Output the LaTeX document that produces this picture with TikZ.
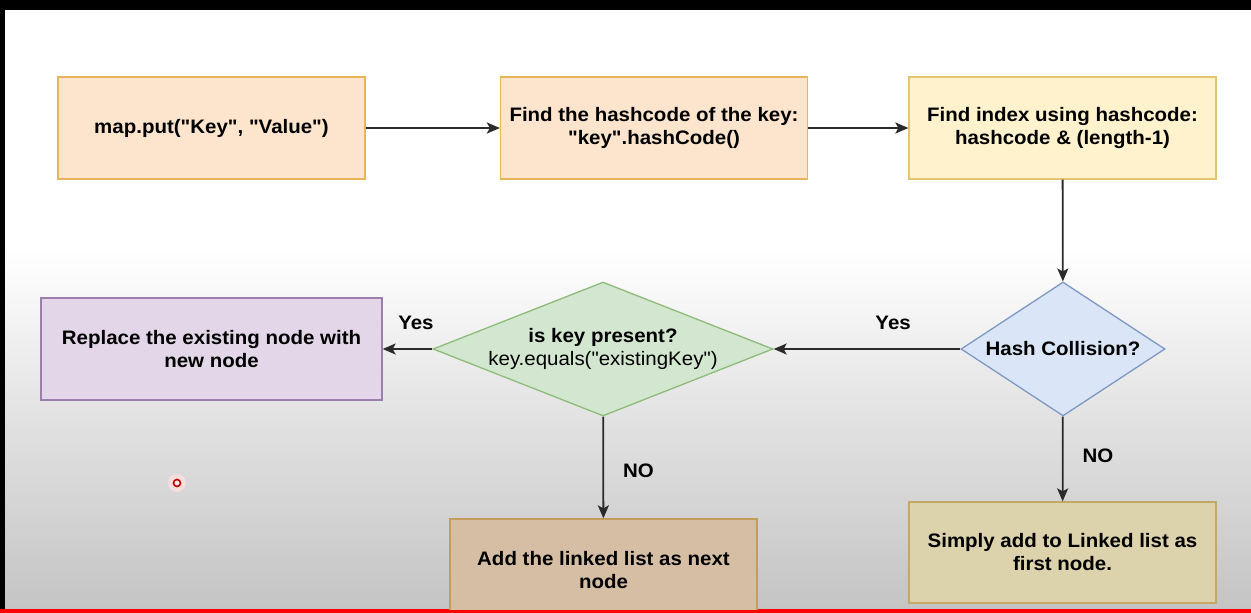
\documentclass[tikz,border=0pt]{standalone}
\usepackage{fontspec}
\setmainfont{Liberation Sans}[FakeStretch=1.05, Ligatures=TeXOff]
\usetikzlibrary{shapes.geometric,arrows.meta}
\newcommand{\qq}{\char34{}}
\definecolor{orfill}{HTML}{FDE4CC}
\definecolor{ordraw}{HTML}{E8B45A}
\definecolor{yefill}{HTML}{FFF2CC}
\definecolor{yedraw}{HTML}{E3C56E}
\definecolor{blfill}{HTML}{DAE6F8}
\definecolor{bldraw}{HTML}{7D98C4}
\definecolor{grfill}{HTML}{D3E6CF}
\definecolor{grdraw}{HTML}{8DBB78}
\definecolor{pufill}{HTML}{E2D6E8}
\definecolor{pudraw}{HTML}{9B7DAE}
\definecolor{brfill}{HTML}{D6BEA5}
\definecolor{brdraw}{HTML}{C29E5A}
\definecolor{olfill}{HTML}{DCD2AC}
\definecolor{oldraw}{HTML}{C4A865}
\definecolor{lnk}{HTML}{2A2A2A}
\definecolor{bgbot}{HTML}{C4C4C4}
\definecolor{bgmid}{HTML}{E0E0E0}
\pgfdeclareverticalshading{bgshade}{100bp}{color(0bp)=(bgbot); color(25bp)=(bgbot); color(50bp)=(bgmid); color(75bp)=(white); color(100bp)=(white)}
\tikzset{
  x=1pt, y=-1pt,
  box/.style={draw, line width=1.3pt, minimum width=307pt, minimum height=102pt,
    align=center, font=\bfseries\fontsize{19.5}{23}\selectfont, inner sep=0pt},
  dia/.style={diamond, draw, line width=1.3pt, inner sep=0pt, align=center,
    font=\bfseries\fontsize{19.5}{23}\selectfont},
  link/.style={draw=lnk, line width=1.8pt, -{Stealth[length=13pt,width=11pt,inset=3pt]}},
  lab/.style={font=\bfseries\fontsize{19.5}{20}\selectfont, inner sep=0pt}
}
\begin{document}
\begin{tikzpicture}
\useasboundingbox (0,0) rectangle (1251,613);
\fill[white] (0,0) rectangle (1251,250);
\shade[shading=bgshade] (0,250) rectangle (1251,609);
\fill[black] (0,0) rectangle (1251,10);
\fill[black] (0,0) rectangle (5,609);
\fill[red] (0,609) rectangle (1251,613);
\begin{scope}
\clip (5,10) rectangle (1251,609);
\node[box, fill=orfill, draw=ordraw] (put) at (211.5,128) {map.put(\qq Key\qq, \qq Value\qq)};
\node[box, fill=orfill, draw=ordraw] (hash) at (654,128) {Find the hashcode of the key:\\\qq key\qq.hashCode()};
\node[box, fill=yefill, draw=yedraw] (idx) at (1062.5,128) {Find index using hashcode:\\hashcode \& (length-1)};
\node[dia, aspect=1.52, fill=blfill, draw=bldraw, minimum width=204pt, minimum height=134pt] (coll) at (1063,349) {Hash Collision?};
\node[dia, aspect=2.54, fill=grfill, draw=grdraw, minimum width=340pt, minimum height=134pt] (kp) at (603,349) {is key present?\\{\mdseries key.equals(\qq existingKey\qq)}};
\node[box, fill=pufill, draw=pudraw, minimum width=341pt] (rep) at (211.5,349) {Replace the existing node with\\new node};
\node[box, fill=brfill, draw=brdraw] (add) at (603.5,570) {Add the linked list as next\\node};
\node[box, fill=olfill, draw=oldraw, minimum height=101pt] (first) at (1062.5,552.5) {Simply add to Linked list as\\first node.};
\draw[link] (put) -- (hash);
\draw[link] (hash) -- (idx);
\draw[link] (idx) -- (coll);
\draw[link] (coll) -- node[lab, pos=0.36, above=18pt] {Yes} (kp);
\draw[link] (kp) -- node[lab, pos=0.33, above=18pt] {Yes} (rep);
\draw[link] (kp) -- node[lab, pos=0.53, right=19pt] {NO} (add);
\draw[link] (coll) -- node[lab, pos=0.465, right=19pt] {NO} (first);
\fill[red!12, opacity=0.8] (177,483) circle[radius=9pt];
\node[circle, draw=red!75!black, line width=1.6pt, inner sep=0pt, minimum size=7pt, fill=red!8] (cursor) at (177,483) {};
\end{scope}
\end{tikzpicture}
\end{document}
